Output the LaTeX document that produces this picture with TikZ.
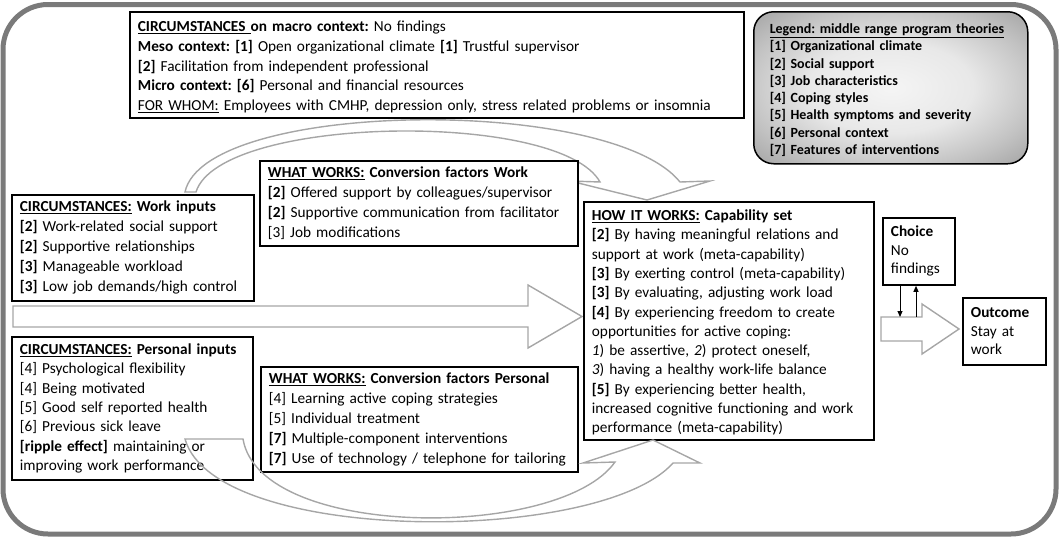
\documentclass[tikz,border=0pt]{standalone}
\usepackage{fontspec}
\setmainfont{Carlito}
\usetikzlibrary{arrows.meta}
\frenchspacing
\newcommand{\fsA}{\fontsize{15.3}{20}\selectfont}
\newcommand{\fsM}{\fontsize{15.3}{19.8}\selectfont}
\newcommand{\fsB}{\fontsize{15.3}{19.3}\selectfont}
\newcommand{\fsC}{\fontsize{15.3}{18.5}\selectfont}
\newcommand{\fsL}{\fontsize{14}{17.3}\selectfont}
\newcommand{\ulin}[1]{\underline{#1}}
\newcommand{\tallstrut}[1]{\rule{0pt}{#1}}
\pgfdeclareradialshading{legshade}{\pgfpoint{0bp}{0bp}}{%
  color(0bp)=(black!4); color(15bp)=(black!9); color(27bp)=(black!24);
  color(40bp)=(black!42); color(50bp)=(black!55); color(60bp)=(black!63); color(75bp)=(black!70)}
\begin{document}
\begin{tikzpicture}[x=1pt,y=-1pt,
  box/.style={draw=black, line width=1.8pt, fill=white, anchor=north west, align=left,
              inner xsep=8pt, inner ysep=2pt, font=\fsA},
  legendbox/.style={draw=black, line width=1.5pt, rounded corners=20pt, anchor=north west,
              align=left, inner xsep=16pt, inner ysep=2pt, font=\fsL\bfseries,
              shading=legshade},
  garrow/.style={draw=black!35, line width=1.4pt, line join=miter},
  frame/.style={draw=black!52, line width=5pt, rounded corners=45pt},
  smallarrow/.style={draw=black, line width=1pt, -{Triangle[length=6pt,width=5pt]}}]
\useasboundingbox (0,0) rectangle (1061,539);
\draw[frame] (3,4.5) rectangle (1056,534);

% top curved arrow (behind boxes)
\draw[garrow] (185,192) .. controls (205,100) and (610,95) .. (680,182) -- (710,181) -- (647,200)
  -- (570,181) -- (600,182) .. controls (560,110) and (220,115) .. (196,192) -- cycle;

% big horizontal arrow
\draw[garrow] (13,306) -- (528,306) -- (528,285) -- (582,316.5) -- (528,348) -- (528,327) -- (13,327) -- cycle;

% small arrow to outcome
\draw[garrow] (881,317) -- (922,317) -- (922,304) -- (959,329) -- (922,354) -- (922,341) -- (881,341) -- cycle;

\node[box, font=\fsM, minimum width=614pt, minimum height=106pt, text width=598pt] (macro) at (129,11) {%
\tallstrut{15pt}\ulin{\textbf{CIRCUMSTANCES }}\textbf{on macro context:} No findings\\
\textbf{Meso context: [1]} Open organizational climate \textbf{[1]} Trustful supervisor\\
\textbf{[2]} Facilitation from independent professional\\
\textbf{Micro context: [6]} Personal and financial resources\\
\ulin{FOR WHOM:} Employees with CMHP, depression only, stress related problems or insomnia};

\node[legendbox, minimum width=274pt, minimum height=152pt, text width=242pt] (legend) at (753,11) {%
\tallstrut{14.5pt}\ulin{Legend: middle range program theories}\\
{}[1] Organizational climate\\
{}[2] Social support\\
{}[3] Job characteristics\\
{}[4] Coping styles\\
{}[5] Health symptoms and severity\\
{}[6] Personal context\\
{}[7] Features of interventions};

\node[box, minimum width=242pt, minimum height=106pt, text width=226pt] (workin) at (11,194) {%
\ulin{\textbf{CIRCUMSTANCES:}}\textbf{ Work inputs}\\
\textbf{[2]} Work-related social support\\
\textbf{[2]} Supportive relationships\\
\textbf{[3]} Manageable workload\\
\textbf{[3]} Low job demands/high control};

\node[box, minimum width=318pt, minimum height=85pt, text width=302pt] (wwwork) at (259,160) {%
\ulin{\textbf{WHAT WORKS:}}\textbf{ Conversion factors Work}\\
\textbf{[2]} Offered support by colleagues/supervisor\\
\textbf{[2]} Supportive communication from facilitator\\
{}[3] Job modifications};

\node[box, font=\fsB, minimum width=290pt, minimum height=238pt, text width=274pt] (how) at (583,201) {%
\tallstrut{14pt}\ulin{\textbf{HOW IT WORKS:}}\textbf{ Capability set}\\
\textbf{[2]} By having meaningful relations and\\
support at work (meta-capability)\\
\textbf{[3]} By exerting control (meta-capability)\\
\textbf{[3]} By evaluating, adjusting work load\\
\textbf{[4]} By experiencing freedom to create\\
opportunities for active coping:\\
\textit{1}) be assertive, \textit{2}) protect oneself,\\
\textit{3}) having a healthy work-life balance\\
\textbf{[5]} By experiencing better health,\\
increased cognitive functioning and work\\
performance (meta-capability)};

\node[box, font=\fsC, minimum width=72pt, minimum height=67pt, text width=56pt] (choice) at (882,217) {%
\textbf{Choice}\\No\\findings};

\node[box, font=\fsC, minimum width=83pt, minimum height=67pt, text width=67pt] (outcome) at (962,297) {%
\textbf{Outcome}\\Stay at\\work};

\node[box, font=\fsB, minimum width=241pt, minimum height=143pt, text width=225pt] (persin) at (11,336) {%
\ulin{\textbf{CIRCUMSTANCES:}}\textbf{ Personal inputs}\\
{}[4] Psychological flexibility\\
{}[4] Being motivated\\
{}[5] Good self reported health\\
{}[6] Previous sick leave\\
\textbf{[ripple effect]} maintaining or\\
improving work performance};

\node[box, minimum width=317pt, minimum height=105pt, text width=301pt] (wwpers) at (260,366) {%
\ulin{\textbf{WHAT WORKS:}}\textbf{ Conversion factors Personal}\\
{}[4] Learning active coping strategies\\
{}[5] Individual treatment\\
\textbf{[7]} Multiple-component interventions\\
\mbox{\textbf{[7]} Use of technology / telephone for tailoring}};

% bottom curved arrow (on top)
\draw[garrow] (185,439) .. controls (215,545) and (600,545) .. (673,463) -- (700,463) -- (653,440)
  -- (583,463) -- (615,462) .. controls (560,540) and (260,540) .. (243,439) -- cycle;

% choice arrows
\coordinate (c1) at (900,317);
\coordinate (c2) at (916,317);
\draw[smallarrow] (choice.south -| c1) -- (c1);
\draw[smallarrow] (c2) -- (choice.south -| c2);
\end{tikzpicture}
\end{document}
